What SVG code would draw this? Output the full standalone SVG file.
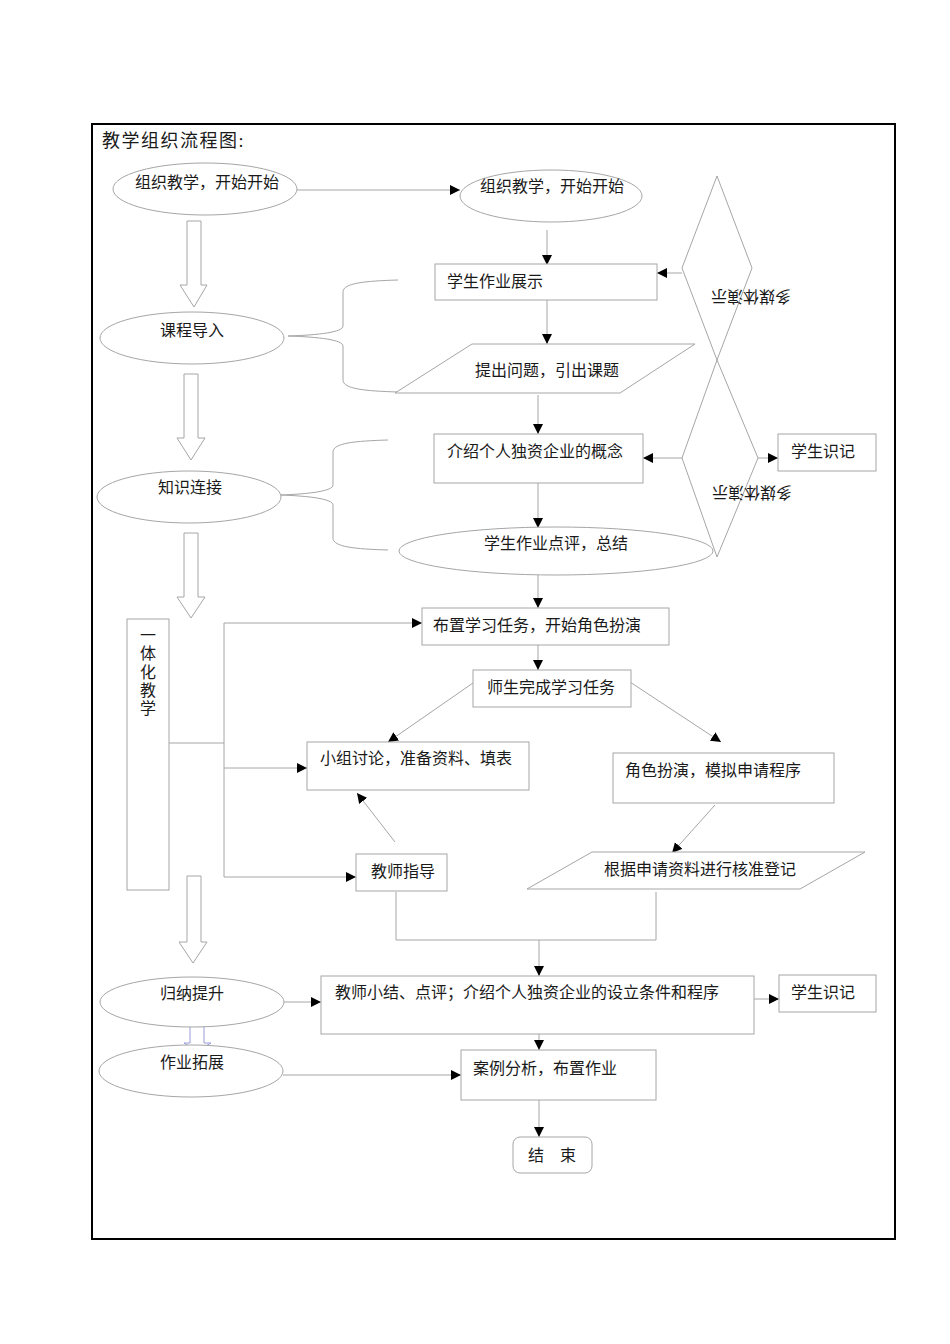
<svg xmlns="http://www.w3.org/2000/svg" width="950" height="1344" viewBox="0 0 950 1344">
<defs>
<marker id="ah" markerUnits="userSpaceOnUse" markerWidth="11" markerHeight="11" refX="10" refY="5" orient="auto">
<path d="M0,0 L10,5 L0,10 z" fill="#000"/>
</marker>
<style>
.s{fill:#fff;stroke:#a6a6a6;stroke-width:1}
.c{fill:none;stroke:#a6a6a6;stroke-width:1}
.a{fill:none;stroke:#a6a6a6;stroke-width:1;marker-end:url(#ah)}
.t{font-family:"Liberation Serif","Noto Sans CJK SC",serif;font-size:16px;fill:#1a1a1a}
.ba{fill:#fff;stroke:#a6a6a6;stroke-width:1}
</style>
</defs>
<rect width="950" height="1344" fill="#fff"/>
<rect x="92" y="124" width="803" height="1115" fill="none" stroke="#000" stroke-width="2"/>
<text class="t" x="102" y="147" style="font-size:18px;letter-spacing:1.5px">教学组织流程图:</text>

<g id="connectors">
<path class="a" d="M297,190 H460"/>
<path class="a" d="M547,230 V265"/>
<path class="a" d="M547,300 V344"/>
<path class="a" d="M682,273 H657"/>
<path class="a" d="M538,395 V434"/>
<path class="a" d="M682,458 H643"/>
<path class="a" d="M758,458 H778"/>
<path class="a" d="M538,483 V528"/>
<path class="a" d="M538,575 V608"/>
<path class="a" d="M538,645 V670"/>
<path class="c" d="M169,743 H224 M224,623 V877"/>
<path class="a" d="M224,623 H422"/>
<path class="a" d="M224,768 H307"/>
<path class="a" d="M224,877 H356"/>
<path class="a" d="M473,683 L388,742"/>
<path class="a" d="M630,682 L721,742"/>
<path class="a" d="M715,805 L672,853"/>
<path class="a" d="M395,842 L357,793"/>
<path class="c" d="M656,892 V940 H396 V892"/>
<path class="a" d="M539,940 V976"/>
<path class="a" d="M283,1002 H321"/>
<path class="a" d="M752,999 H779"/>
<path class="a" d="M539,1034 V1050"/>
<path class="a" d="M283,1075 H461"/>
<path class="a" d="M539,1100 V1137"/>
<path class="c" d="M398,280 C365,281 343,283 343,292 L343,326 C343,332 320,335 288,336 C320,337 343,340 343,346 L343,380 C343,389 365,391 398,392"/>
<path class="c" d="M388,440 C355,441 333,443 333,452 L333,485 C333,491 310,494 280,495 C310,496 333,499 333,505 L333,538 C333,547 355,549 388,550"/>
</g>

<g id="arrow-big-1"><polygon class="ba" points="187,221 201,221 201,285 207,285 194,307 180,285 187,285"/></g>
<g id="arrow-big-2"><polygon class="ba" points="184,374 198,374 198,438 205,438 191,460 177,438 184,438"/></g>
<g id="arrow-big-3"><polygon class="ba" points="184,533 198,533 198,597 205,597 191,618 177,597 184,597"/></g>
<g id="arrow-big-4"><polygon class="ba" points="187,876 201,876 201,942 207,942 193,963 179,942 187,942"/></g>
<g id="arrow-big-5"><polygon points="190,1026 204,1026 204,1043 211,1043 197,1051 184,1043 190,1043" fill="#fff" stroke="#9a9ad8" stroke-width="1"/></g>

<g id="n-start-left"><ellipse class="s" cx="205" cy="189" rx="92" ry="26"/><text class="t" x="135" y="188">组织教学，开始开始</text></g>
<g id="n-start-right"><ellipse class="s" cx="551" cy="196" rx="91" ry="26"/><text class="t" x="480" y="192">组织教学，开始开始</text></g>
<g id="n-show"><rect class="s" x="435" y="264" width="222" height="36"/><text class="t" x="447" y="287">学生作业展示</text></g>
<g id="n-diamond1"><polygon class="s" points="717,176 752,268 717,360 682,268"/><text class="t" x="751" y="303" text-anchor="middle" transform="rotate(180 751 297)">多媒体演示</text></g>
<g id="n-question"><polygon class="s" points="472,344 695,344 620,393 395,393"/><text class="t" x="475" y="376">提出问题，引出课题</text></g>
<g id="n-intro"><ellipse class="s" cx="192" cy="338" rx="92" ry="26"/><text class="t" x="160" y="336">课程导入</text></g>
<g id="n-knowledge"><ellipse class="s" cx="189" cy="497" rx="92" ry="26"/><text class="t" x="158" y="493">知识连接</text></g>
<g id="n-concept"><rect class="s" x="434" y="434" width="209" height="49"/><text class="t" x="447" y="457">介绍个人独资企业的概念</text></g>
<g id="n-diamond2"><polygon class="s" points="717,360 758,458 717,557 682,458"/><text class="t" x="752" y="499" text-anchor="middle" transform="rotate(180 752 493)">多媒体演示</text></g>
<g id="n-remember1"><rect class="s" x="778" y="434" width="98" height="37"/><text class="t" x="791" y="457">学生识记</text></g>
<g id="n-review"><ellipse class="s" cx="556" cy="551" rx="157" ry="24"/><text class="t" x="484" y="549">学生作业点评，总结</text></g>
<g id="n-task"><rect class="s" x="422" y="608" width="247" height="37"/><text class="t" x="433" y="631">布置学习任务，开始角色扮演</text></g>
<g id="n-integrated"><rect class="s" x="127" y="619" width="42" height="271"/>
<text class="t" x="148" text-anchor="middle"><tspan x="148" y="641">一</tspan><tspan x="148" y="659">体</tspan><tspan x="148" y="678">化</tspan><tspan x="148" y="696">教</tspan><tspan x="148" y="714">学</tspan></text></g>
<g id="n-complete"><rect class="s" x="473" y="670" width="158" height="37"/><text class="t" x="487" y="693">师生完成学习任务</text></g>
<g id="n-group"><rect class="s" x="307" y="742" width="222" height="48"/><text class="t" x="320" y="764">小组讨论，准备资料、填表</text></g>
<g id="n-roleplay"><rect class="s" x="613" y="753" width="221" height="50"/><text class="t" x="625" y="776">角色扮演，模拟申请程序</text></g>
<g id="n-guide"><rect class="s" x="356" y="854" width="91" height="37"/><text class="t" x="371" y="877">教师指导</text></g>
<g id="n-register"><polygon class="s" points="592,852 865,852 800,889 527,889"/><text class="t" x="604" y="875">根据申请资料进行核准登记</text></g>
<g id="n-summary-oval"><ellipse class="s" cx="192" cy="1002" rx="92" ry="25"/><text class="t" x="160" y="999">归纳提升</text></g>
<g id="n-summary"><rect class="s" x="321" y="976" width="433" height="58"/><text class="t" x="335" y="998">教师小结、点评；介绍个人独资企业的设立条件和程序</text></g>
<g id="n-remember2"><rect class="s" x="779" y="975" width="97" height="37"/><text class="t" x="791" y="998">学生识记</text></g>
<g id="n-homework-oval"><ellipse class="s" cx="191" cy="1071" rx="92" ry="26"/><text class="t" x="160" y="1068">作业拓展</text></g>
<g id="n-case"><rect class="s" x="461" y="1050" width="195" height="50"/><text class="t" x="473" y="1074">案例分析，布置作业</text></g>
<g id="n-end"><rect class="s" x="513" y="1137" width="79" height="36" rx="7"/><text class="t" x="552" y="1161" text-anchor="middle">结　束</text></g>
</svg>
